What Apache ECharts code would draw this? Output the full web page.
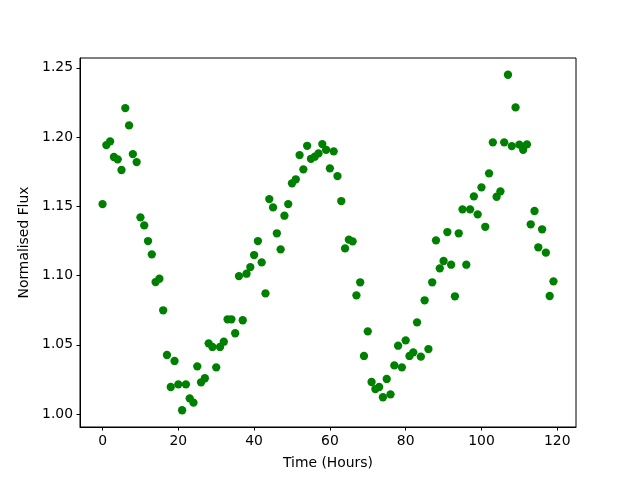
<!DOCTYPE html>
<html>
<head>
<meta charset="utf-8">
<script src="https://cdn.jsdelivr.net/npm/echarts@6/dist/echarts.min.js"></script>
<style>
html,body{margin:0;padding:0;background:#fff;}
#chart{width:640px;height:480px;}
</style>
</head>
<body>
<div id="chart"></div>
<script>
const timeHours = [];
for (let i = 0; i < 120; i++) timeHours.push(i);
const normalisedFlux = [
  1.1516, 1.1942, 1.1969, 1.1856, 1.1839, 1.1762, 1.2209, 1.2084, 1.1877, 1.1819,
  1.1420, 1.1362, 1.1249, 1.1153, 1.0953, 1.0977, 1.0749, 1.0426, 1.0195, 1.0383,
  1.0214, 1.0027, 1.0214, 1.0113, 1.0082, 1.0344, 1.0229, 1.0258, 1.0510, 1.0484,
  1.0337, 1.0484, 1.0522, 1.0684, 1.0684, 1.0583, 1.0996, 1.0677, 1.1013, 1.1061,
  1.1148, 1.1249, 1.1095, 1.0871, 1.1552, 1.1492, 1.1305, 1.1189, 1.1432, 1.1516,
  1.1666, 1.1695, 1.1870, 1.1767, 1.1937, 1.1843, 1.1858, 1.1882, 1.1949, 1.1908,
  1.1774, 1.1897, 1.1718, 1.1538, 1.1196, 1.1259, 1.1247, 1.0857, 1.0951, 1.0419,
  1.0597, 1.0231, 1.0180, 1.0195, 1.0121, 1.0253, 1.0142, 1.0351, 1.0493, 1.0337,
  1.0532, 1.0419, 1.0445, 1.0662, 1.0414, 1.0821, 1.0469, 1.0951, 1.1254, 1.1052,
  1.1105, 1.1314, 1.1078, 1.0850, 1.1305, 1.1478, 1.1078, 1.1478, 1.1572, 1.1442,
  1.1637, 1.1352, 1.1738, 1.1962, 1.1569, 1.1608, 1.1962, 1.2450, 1.1935, 1.2214,
  1.1945, 1.1908, 1.1947, 1.1370, 1.1466, 1.1204, 1.1334, 1.1165, 1.0852, 1.0958
];
const xTicks = [0, 20, 40, 60, 80, 100, 120];
const yTicks = [1.00, 1.05, 1.10, 1.15, 1.20, 1.25];

const points = timeHours.map((t, i) => [t, normalisedFlux[i]]);
const font = 'DejaVu Sans';
const fs = 13.9;

const chart = echarts.init(document.getElementById('chart'), null, {renderer: 'canvas'});
chart.setOption({
  animation: false,
  backgroundColor: '#ffffff',
  grid: {left: 80, top: 58, width: 496, height: 369, show: true, borderColor: '#000', borderWidth: 1, backgroundColor: 'transparent'},
  xAxis: {
    type: 'value', min: -5.95, max: 124.95,
    name: 'Time (Hours)', nameLocation: 'middle', nameGap: 29,
    nameTextStyle: {fontFamily: font, fontSize: fs, color: '#000'},
    axisLine: {show: true, onZero: false, lineStyle: {color: '#000', width: 1}},
    axisTick: {show: true, inside: false, length: 3.5, lineStyle: {color: '#000'}, customValues: xTicks},
    axisLabel: {show: true, margin: 7, fontFamily: font, fontSize: fs, color: '#000', customValues: xTicks, formatter: v => String(v)},
    splitLine: {show: false}
  },
  yAxis: {
    type: 'value', min: 0.9906, max: 1.2571,
    name: 'Normalised Flux', nameLocation: 'middle', nameGap: 45, nameRotate: 90,
    nameTextStyle: {fontFamily: font, fontSize: fs, color: '#000'},
    axisLine: {show: true, onZero: false, lineStyle: {color: '#000', width: 1}},
    axisTick: {show: true, inside: false, length: 3.5, lineStyle: {color: '#000'}, customValues: yTicks},
    axisLabel: {show: true, margin: 7, fontFamily: font, fontSize: fs, color: '#000', customValues: yTicks, formatter: v => v.toFixed(2)},
    splitLine: {show: false}
  },
  series: [{
    type: 'scatter',
    data: points,
    symbol: 'circle',
    symbolSize: 8.3,
    itemStyle: {color: '#008000', opacity: 1}
  }]
});
</script>
</body>
</html>
